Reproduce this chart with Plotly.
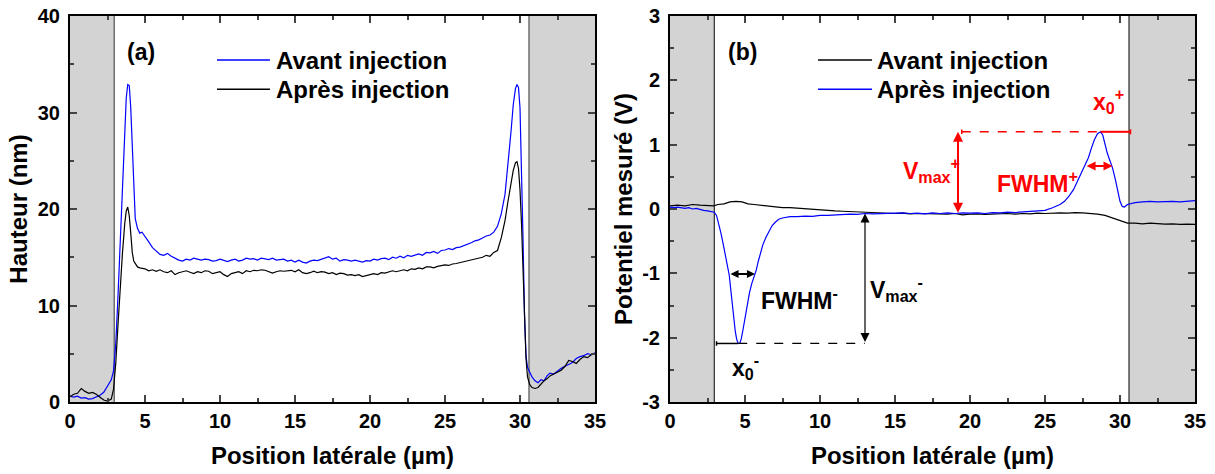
import numpy as np
import plotly.graph_objects as go

# ---------------- Data ----------------
# Panel (a): height profiles (nm) vs lateral position (um)
XA = [0, 0.25, 0.5, 0.75, 1, 1.25, 1.5, 1.75, 2, 2.25, 2.5, 2.75, 2.9, 3.05, 3.2, 3.35, 3.5, 3.65, 3.75, 3.85,
      3.95, 4.05, 4.15, 4.25, 4.35, 4.5, 4.65, 4.8, 5, 5.25, 5.5, 5.75, 6, 6.25, 6.5, 6.75, 7, 7.25, 7.5, 7.75,
      8, 8.25, 8.5, 8.75, 9, 9.25, 9.5, 9.75, 10, 10.25, 10.5, 10.75, 11, 11.25, 11.5, 11.75, 12, 12.25, 12.5, 12.75,
      13, 13.25, 13.5, 13.75, 14, 14.25, 14.5, 14.75, 15, 15.25, 15.5, 15.75, 16, 16.25, 16.5, 16.75, 17, 17.25, 17.5, 17.75,
      18, 18.25, 18.5, 18.75, 19, 19.25, 19.5, 19.75, 20, 20.25, 20.5, 20.75, 21, 21.25, 21.5, 21.75, 22, 22.25, 22.5, 22.75,
      23, 23.25, 23.5, 23.75, 24, 24.25, 24.5, 24.75, 25, 25.25, 25.5, 25.75, 26, 26.25, 26.5, 26.75, 27, 27.25, 27.5, 27.75,
      28, 28.25, 28.5, 28.75, 29, 29.2, 29.4, 29.55, 29.7, 29.8, 29.9, 30, 30.1, 30.2, 30.3, 30.4, 30.5, 30.65, 30.8, 31,
      31.2, 31.4, 31.6, 31.8, 32, 32.25, 32.5, 32.75, 33, 33.25, 33.5, 33.75, 34, 34.25, 34.5, 34.75, 35]
HA_AVANT = [0.6, 0.5, 0.6, 0.4, 0.45, 0.3, 0.35, 0.5, 0.7, 1.0, 1.6, 2.3, 3.2, 6, 11, 17, 23, 28.5, 31.5, 32.9,
            32.8, 30.5, 26, 21.5, 19, 18.0, 17.5, 17.6, 17.2, 16.6, 16.0, 15.6, 15.3, 15.2, 15.4, 15.1, 14.9, 14.7, 14.6, 14.8,
            14.7, 14.9, 14.8, 14.7, 14.8, 14.75, 14.6, 14.65, 14.8, 14.7, 14.55, 14.7, 14.8, 14.6, 14.7, 14.9, 14.8, 14.85, 14.7, 14.9,
            14.8, 14.75, 14.9, 14.7, 14.75, 14.8, 14.6, 14.7, 14.5, 14.7, 14.5, 14.4, 14.6, 14.7, 14.65, 14.8, 14.9, 15.05, 14.8, 14.9,
            14.6, 14.75, 14.7, 14.6, 14.7, 14.6, 14.5, 14.65, 14.6, 14.8, 14.7, 14.85, 14.9, 14.75, 15.0, 14.9, 15.1, 14.95, 15.2, 15.1,
            15.2, 15.35, 15.2, 15.5, 15.45, 15.6, 15.4, 15.7, 15.75, 15.9, 15.8, 16.0, 16.05, 16.2, 16.3, 16.5, 16.7, 16.8, 17.0, 17.2,
            17.3, 17.6, 18.2, 19.5, 21.5, 24.5, 28, 30.8, 32.5, 32.9, 32.6, 30.5, 25, 17, 9, 4.8, 3.6, 3.1, 2.6, 2.2,
            2.0, 2.3, 2.2, 2.7, 3.0, 2.9, 3.2, 3.5, 3.7, 3.9, 4.1, 4.5, 4.7, 4.8, 5.0, 4.9, 5.1]
HA_APRES = [0.55, 0.8, 0.9, 1.4, 1.1, 0.9, 1.0, 0.8, 0.5, 0.2, 0.1, 0.3, 1.3, 4, 8, 12, 15.5, 18.5, 19.8, 20.2,
            19.3, 17.5, 15.5, 14.6, 14.3, 14.0, 13.9, 13.85, 13.8, 13.6, 13.7, 13.55, 13.7, 13.5, 13.4, 13.6, 13.2, 13.4, 13.5, 13.6,
            13.45, 13.3, 13.5, 13.4, 13.6, 13.55, 13.3, 13.4, 13.5, 13.2, 13.0, 13.3, 13.4, 13.5, 13.3, 13.6, 13.5, 13.65, 13.6, 13.7,
            13.65, 13.5, 13.35, 13.5, 13.6, 13.55, 13.6, 13.65, 13.5, 13.7, 13.4, 13.3, 13.4, 13.55, 13.4, 13.5, 13.45, 13.3, 13.4, 13.2,
            13.35, 13.3, 13.15, 13.2, 13.1, 13.2, 13.0, 13.1, 13.25, 13.3, 13.2, 13.4, 13.35, 13.5, 13.6, 13.5, 13.6, 13.7, 13.6, 13.8,
            13.75, 13.9, 13.8, 14.0, 14.0, 13.9, 14.05, 14.1, 14.2, 14.15, 14.3, 14.35, 14.45, 14.5, 14.6, 14.7, 14.8, 14.95, 15.0, 15.2,
            15.1, 15.5, 15.7, 17.0, 18.8, 20.8, 22.8, 24.0, 24.8, 24.9, 24.2, 22, 18.5, 13.5, 8.5, 4.5, 2.6, 1.8, 1.5, 1.4,
            1.5, 1.9, 2.2, 2.4, 2.7, 2.9, 3.1, 3.3, 3.7, 4.3, 4.2, 4.0, 4.4, 4.7, 4.6, 4.9, 5.0]

# Panel (b): measured potential (V) vs lateral position (um)
XB_APRES = [0, 0.25, 0.5, 0.75, 1, 1.25, 1.5, 1.75, 2, 2.25, 2.5, 2.75, 2.95, 3.1, 3.25, 3.4, 3.55, 3.7, 3.85, 3.95,
            4.05, 4.15, 4.25, 4.35, 4.45, 4.55, 4.65, 4.75, 4.85, 5.0, 5.15, 5.3, 5.45, 5.6, 5.75, 5.9, 6.05, 6.2, 6.4, 6.6,
            6.8, 7.0, 7.25, 7.5, 7.75, 8, 8.5, 9, 9.5, 10, 10.5, 11, 11.5, 12, 12.5, 13, 13.5, 14, 14.5, 15,
            15.5, 16, 16.5, 17, 17.5, 18, 18.5, 19, 19.5, 20, 20.5, 21, 21.5, 22, 22.5, 23, 23.5, 24, 24.5, 25,
            25.5, 26, 26.3, 26.6, 26.9, 27.1, 27.3, 27.5, 27.7, 27.9, 28.1, 28.3, 28.5, 28.7, 28.85, 29.0, 29.15, 29.3, 29.5, 29.7,
            29.85, 30.0, 30.15, 30.3, 30.5, 30.75, 31, 31.5, 32, 32.5, 33, 33.5, 34, 34.5, 35]
VB_APRES = [0.03, 0.02, 0.03, 0.02, 0.01, 0.02, 0.0, 0.01, -0.01, -0.02, -0.03, -0.04, -0.05, -0.1, -0.22, -0.38, -0.55, -0.73, -0.92, -1.03,
            -1.25, -1.5, -1.72, -1.9, -2.03, -2.09, -2.09, -2.02, -1.9, -1.7, -1.48, -1.3, -1.16, -1.05, -0.95, -0.8, -0.66, -0.55, -0.44, -0.34,
            -0.26, -0.21, -0.16, -0.14, -0.13, -0.12, -0.12, -0.11, -0.115, -0.1, -0.1, -0.09, -0.09, -0.08, -0.085, -0.07, -0.075, -0.07, -0.065, -0.07,
            -0.06, -0.07, -0.065, -0.075, -0.06, -0.07, -0.06, -0.07, -0.06, -0.065, -0.06, -0.07, -0.055, -0.06, -0.05, -0.055, -0.045, -0.04, -0.03, -0.02,
            0.02, 0.07, 0.12, 0.2, 0.3, 0.4, 0.5, 0.6, 0.68, 0.8, 0.95, 1.08, 1.17, 1.2, 1.15, 1.0, 0.87, 0.77, 0.64, 0.45,
            0.28, 0.12, 0.04, 0.03, 0.07, 0.09, 0.1, 0.11, 0.12, 0.11, 0.12, 0.12, 0.11, 0.12, 0.13]
XB_AVANT = [0, 0.5, 1, 1.5, 2, 2.5, 2.9, 3.2, 3.6, 4.0, 4.4, 4.8, 5.2, 5.6, 6, 6.5, 7, 7.5, 8, 8.5,
            9, 9.5, 10, 10.5, 11, 11.5, 12, 12.5, 13, 13.5, 14, 14.5, 15, 15.5, 16, 16.5, 17, 17.5, 18, 18.5,
            19, 19.5, 20, 20.5, 21, 21.5, 22, 22.5, 23, 23.5, 24, 24.5, 25, 25.5, 26, 26.5, 27, 27.5, 28, 28.5,
            29, 29.5, 30, 30.5, 31, 31.5, 32, 32.5, 33, 33.5, 34, 34.5, 35]
VB_AVANT = [0.05, 0.06, 0.05, 0.07, 0.06, 0.06, 0.05, 0.07, 0.08, 0.11, 0.12, 0.11, 0.08, 0.07, 0.06, 0.05, 0.03, 0.02, 0.02, 0.01,
            0.0, -0.01, -0.02, -0.025, -0.03, -0.035, -0.04, -0.05, -0.055, -0.06, -0.06, -0.065, -0.07, -0.065, -0.075, -0.07, -0.075, -0.08, -0.085, -0.08,
            -0.07, -0.09, -0.08, -0.075, -0.085, -0.08, -0.075, -0.07, -0.08, -0.07, -0.075, -0.065, -0.07, -0.06, -0.06, -0.065, -0.055, -0.06, -0.065, -0.08,
            -0.1, -0.14, -0.19, -0.22, -0.22, -0.23, -0.22, -0.23, -0.235, -0.23, -0.24, -0.235, -0.24]

# Tick labels
X_TICKS = [0, 5, 10, 15, 20, 25, 30, 35]
YA_TICKS = [0, 10, 20, 30, 40]
YB_TICKS = [-3, -2, -1, 0, 1, 2, 3]
YB_LABELS = ["-3", "-2", "-1", "0", "1", "2", "3"]

# Shaded (substrate) zones and annotation readings (um / V)
ZONE_LEFT = 2.95
ZONE_RIGHT = 30.6
FWHM_NEG = (3.93, 5.67, -1.01)
FWHM_POS = (27.67, 29.5, 0.67)
BASE_NEG = -0.07
BASE_POS = -0.08
VMAX_NEG_X = 13.0
VMAX_POS_X = 19.2
X0_NEG_START = 3.1
X0_POS_END = 30.7

LEG_A = ["Avant injection", "Après injection"]
LEG_B = ["Avant injection", "Après injection"]

BLUE = "#0000ff"
BLACK = "#000000"
RED = "#ff0000"
FONT = "Liberation Sans"

# --------------------------------------------------------------------------
i_min = int(np.argmin(VB_APRES))
i_max = int(np.argmax(VB_APRES))
x_min, v_min = XB_APRES[i_min], VB_APRES[i_min]
x_max, v_max = XB_APRES[i_max], VB_APRES[i_max]

fig = go.Figure()
fig.add_trace(go.Scatter(x=XA, y=HA_AVANT, mode="lines", line=dict(color=BLUE, width=1.2),
                         name=LEG_A[0], showlegend=False, xaxis="x", yaxis="y"))
fig.add_trace(go.Scatter(x=XA, y=HA_APRES, mode="lines", line=dict(color=BLACK, width=1.2),
                         name=LEG_A[1], showlegend=False, xaxis="x", yaxis="y"))
fig.add_trace(go.Scatter(x=XB_AVANT, y=VB_AVANT, mode="lines", line=dict(color=BLACK, width=1.2),
                         name=LEG_B[0], showlegend=False, xaxis="x2", yaxis="y2"))
fig.add_trace(go.Scatter(x=XB_APRES, y=VB_APRES, mode="lines", line=dict(color=BLUE, width=1.2),
                         name=LEG_B[1], showlegend=False, xaxis="x2", yaxis="y2"))

shapes = []
# grey zones
for xr, yr, ylo, yhi, edge, ew in [("x", "y", 0, 40, "#6e6e6e", 1.5), ("x2", "y2", -3, 3, "#000000", 1)]:
    shapes.append(dict(type="rect", xref=xr, yref=yr, x0=0, x1=ZONE_LEFT, y0=ylo, y1=yhi,
                       fillcolor="#d3d3d3", line=dict(width=0), layer="below"))
    shapes.append(dict(type="rect", xref=xr, yref=yr, x0=ZONE_RIGHT, x1=35, y0=ylo, y1=yhi,
                       fillcolor="#d3d3d3", line=dict(width=0), layer="below"))
    shapes.append(dict(type="line", xref=xr, yref=yr, x0=ZONE_LEFT, x1=ZONE_LEFT, y0=ylo, y1=yhi,
                       line=dict(color=edge, width=ew), layer="below"))
    shapes.append(dict(type="line", xref=xr, yref=yr, x0=ZONE_RIGHT, x1=ZONE_RIGHT, y0=ylo, y1=yhi,
                       line=dict(color=edge, width=ew), layer="below"))

annotations = []
# manual legends
def legend(xr, yr, x0, x1, xt, ys, labels, colors, size=24):
    for y, lab, col in zip(ys, labels, colors):
        shapes.append(dict(type="line", xref=xr, yref=yr, x0=x0, x1=x1, y0=y, y1=y,
                           line=dict(color=col, width=1.5)))
        annotations.append(dict(xref=xr, yref=yr, x=xt, y=y, text=lab, showarrow=False,
                                xanchor="left", yanchor="middle", font=dict(size=size, color="black")))

legend("x", "y", 9.8, 13.33, 13.6, [35.44, 32.4], LEG_A, [BLUE, BLACK])
legend("x2", "y2", 9.87, 13.47, 13.66, [2.316, 1.86], LEG_B, [BLACK, BLUE])

annotations.append(dict(xref="x", yref="y", x=4.73, y=36.3, text="(a)", showarrow=False, font=dict(size=23)))
annotations.append(dict(xref="x2", yref="y2", x=4.8, y=2.44, text="(b)", showarrow=False, font=dict(size=23)))

def darrow(xh, yh, xt, yt, col, w, size):
    annotations.append(dict(xref="x2", yref="y2", axref="x2", ayref="y2", x=xh, y=yh, ax=xt, ay=yt,
                            text="", showarrow=True, arrowhead=2, startarrowhead=2, arrowside="end+start",
                            arrowsize=size, startarrowsize=size, arrowwidth=w, arrowcolor=col,
                            standoff=0, startstandoff=0))

# red (positive peak) annotations
shapes.append(dict(type="line", xref="x2", yref="y2", x0=VMAX_POS_X + 0.25, x1=x_max, y0=v_max, y1=v_max,
                   line=dict(color=RED, width=1.5, dash="dash")))
shapes.append(dict(type="line", xref="x2", yref="y2", x0=VMAX_POS_X + 0.25, x1=VMAX_POS_X + 0.25,
                   y0=v_max - 0.035, y1=v_max + 0.035, line=dict(color=RED, width=1.5)))
shapes.append(dict(type="line", xref="x2", yref="y2", x0=x_max, x1=X0_POS_END, y0=v_max, y1=v_max,
                   line=dict(color=RED, width=2)))
shapes.append(dict(type="line", xref="x2", yref="y2", x0=X0_POS_END, x1=X0_POS_END,
                   y0=v_max - 0.04, y1=v_max + 0.04, line=dict(color=RED, width=1.5)))
darrow(VMAX_POS_X, v_max, VMAX_POS_X, BASE_POS, RED, 2, 1.0)
darrow(FWHM_POS[1], FWHM_POS[2], FWHM_POS[0], FWHM_POS[2], RED, 2, 0.9)
annotations.append(dict(xref="x2", yref="y2", x=17.4, y=0.6, showarrow=False,
                        text="V<sub>max</sub><sup>+</sup>", font=dict(size=23, color=RED)))
annotations.append(dict(xref="x2", yref="y2", x=24.5, y=0.42, showarrow=False,
                        text="FWHM<sup>+</sup>", font=dict(size=23, color=RED)))
annotations.append(dict(xref="x2", yref="y2", x=29.2, y=1.68, showarrow=False,
                        text="x<sub>0</sub><sup>+</sup>", font=dict(size=23, color=RED)))

# black (negative peak) annotations
shapes.append(dict(type="line", xref="x2", yref="y2", x0=X0_NEG_START, x1=x_min, y0=v_min, y1=v_min,
                   line=dict(color=BLACK, width=1.5)))
shapes.append(dict(type="line", xref="x2", yref="y2", x0=X0_NEG_START, x1=X0_NEG_START,
                   y0=v_min - 0.035, y1=v_min + 0.035, line=dict(color=BLACK, width=1.5)))
shapes.append(dict(type="line", xref="x2", yref="y2", x0=x_min, x1=VMAX_NEG_X, y0=v_min, y1=v_min,
                   line=dict(color=BLACK, width=1.2, dash="dash")))
darrow(VMAX_NEG_X, BASE_NEG, VMAX_NEG_X, v_min, BLACK, 1.2, 1.5)
darrow(FWHM_NEG[1], FWHM_NEG[2], FWHM_NEG[0], FWHM_NEG[2], BLACK, 1.8, 0.9)
annotations.append(dict(xref="x2", yref="y2", x=8.6, y=-1.4, showarrow=False,
                        text="FWHM<sup>-</sup>", font=dict(size=23, color=BLACK)))
annotations.append(dict(xref="x2", yref="y2", x=15.1, y=-1.25, showarrow=False,
                        text="V<sub>max</sub><sup>-</sup>", font=dict(size=23, color=BLACK)))
annotations.append(dict(xref="x2", yref="y2", x=5.0, y=-2.46, showarrow=False,
                        text="x<sub>0</sub><sup>-</sup>", font=dict(size=23, color=BLACK)))

def xax(dom, anchor):
    return dict(domain=dom, anchor=anchor, range=[0, 35], tickmode="array", tickvals=X_TICKS,
                ticktext=[str(t) for t in X_TICKS], ticks="inside", ticklen=7,
                tickwidth=1.5, minor=dict(ticks="inside", ticklen=4, dtick=2.5, tickwidth=1.5),
                showline=True, linewidth=2, linecolor="black", mirror="allticks", showgrid=False,
                zeroline=False, tickfont=dict(size=20), automargin=False,
                title=dict(text="Position latérale (µm)", font=dict(size=24), standoff=16))

def yax(dom, anchor, rng, tv, tt, mdt, title, standoff):
    return dict(domain=dom, anchor=anchor, range=rng, tickmode="array", tickvals=tv, ticktext=tt,
                ticks="inside", ticklen=7,
                tickwidth=1.5, minor=dict(ticks="inside", ticklen=4, dtick=mdt, tickwidth=1.5),
                showline=True, linewidth=2, linecolor="black", mirror="allticks", showgrid=False,
                zeroline=False, tickfont=dict(size=20), ticklabelstandoff=4, automargin=False,
                title=dict(text=title, font=dict(size=24), standoff=standoff))

ydom = [72 / 474, 458 / 474]
fig.update_layout(
    width=1215, height=474, margin=dict(l=0, r=0, t=0, b=0, autoexpand=False),
    paper_bgcolor="white", plot_bgcolor="white",
    font=dict(family=FONT, weight="bold", color="black"),
    xaxis=xax([70 / 1215, 595 / 1215], "y"),
    yaxis=yax(ydom, "x", [0, 40], YA_TICKS, [str(t) for t in YA_TICKS], 5, "Hauteur (nm)", 3),
    xaxis2=xax([670 / 1215, 1195 / 1215], "y2"),
    yaxis2=yax(ydom, "x2", [-3, 3], YB_TICKS, YB_LABELS, 0.5, "Potentiel mesuré (V)", 3),
    shapes=shapes, annotations=annotations, showlegend=False,
)

fig.write_html("out.html", config={"displayModeBar": False},
               post_script="document.body.style.margin='0';document.body.style.overflow='hidden';")
